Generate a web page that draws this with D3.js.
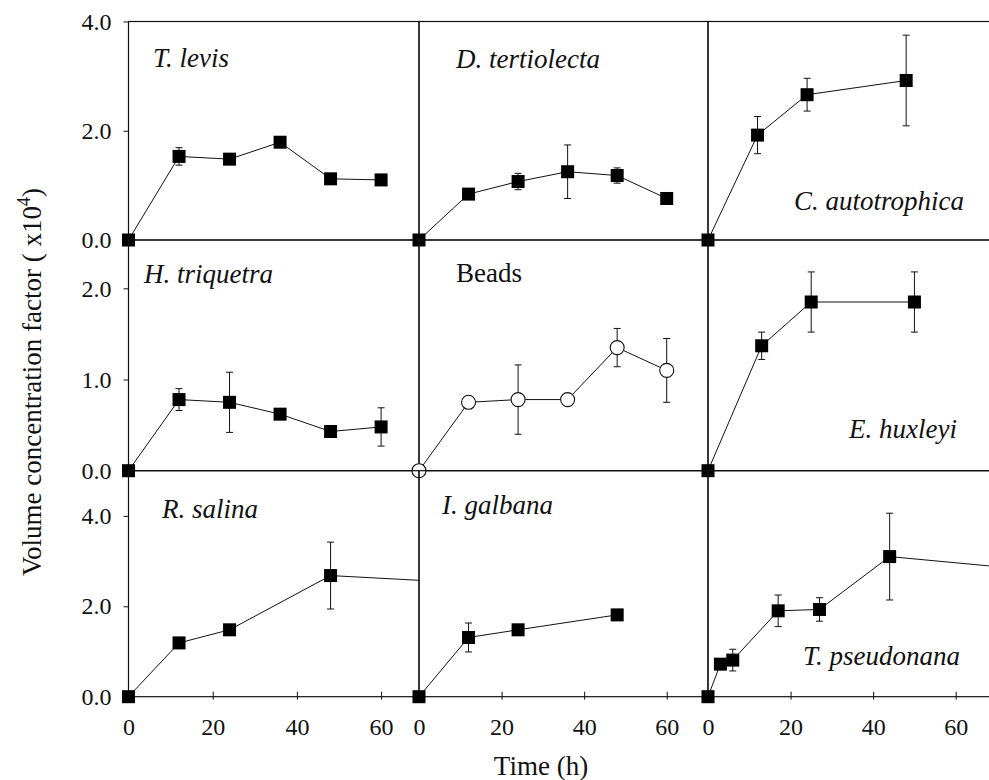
<!DOCTYPE html>
<html>
<head>
<meta charset="utf-8">
<script src="https://cdn.jsdelivr.net/npm/d3@7"></script>
<style>
  body { margin: 0; background: #fff; }
  svg { display: block; }
</style>
</head>
<body>
<svg id="chart" width="989" height="780"></svg>
<script>
// values (time in h, volume concentration factor x10^4)
let tLevisT = [0, 12, 24, 36, 48, 60];
let tLevisV = [0, 1.53, 1.48, 1.79, 1.12, 1.10];
let tLevisE = [0, 0.16, 0, 0, 0, 0];

let dTertT = [0, 12, 24, 36, 48, 60];
let dTertV = [0, 0.84, 1.07, 1.25, 1.18, 0.76];
let dTertE = [0, 0, 0.15, 0.49, 0.14, 0];

let cAutoT = [0, 12, 24, 48];
let cAutoV = [0, 1.92, 2.66, 2.92];
let cAutoE = [0, 0.34, 0.30, 0.83];

let hTriqT = [0, 12, 24, 36, 48, 60];
let hTriqV = [0, 0.78, 0.75, 0.62, 0.43, 0.48];
let hTriqE = [0, 0.12, 0.33, 0, 0, 0.21];

let beadsT = [0, 12, 24, 36, 48, 60];
let beadsV = [0, 0.75, 0.78, 0.78, 1.35, 1.10];
let beadsE = [0, 0.03, 0.38, 0, 0.21, 0.35];

let eHuxT = [0, 13, 25, 50];
let eHuxV = [0, 1.37, 1.85, 1.85];
let eHuxE = [0, 0.15, 0.33, 0.33];

let rSalT = [0, 12, 24, 48, 72];
let rSalV = [0, 1.19, 1.48, 2.68, 2.56];
let rSalE = [0, 0, 0, 0.74, 0];

let iGalT = [0, 12, 24, 48];
let iGalV = [0, 1.31, 1.48, 1.81];
let iGalE = [0, 0.32, 0, 0.05];

let tPseT = [0, 3, 6, 17, 27, 44, 72];
let tPseV = [0, 0.72, 0.81, 1.90, 1.93, 3.10, 2.86];
let tPseE = [0, 0, 0.24, 0.35, 0.26, 0.96, 0];

let rowTicks = [[0, 2, 4], [0, 1, 2], [0, 2, 4]];
let xTicks = [0, 20, 40, 60];

// layout
let colX = [[128.5, 419], [419, 708], [708, 997]];
let rowY = [[21.5, 240], [240, 470.7], [470.7, 696.7]];
let xMax = [69, 70, 70];
let yMax = [4, 2.53, 5];

let font = "'Liberation Serif', 'Times New Roman', Times, serif";

let panels = [
	{row: 0, col: 0, name: "T. levis", lx: 153, ly: 67, t: tLevisT, v: tLevisV, e: tLevisE},
	{row: 0, col: 1, name: "D. tertiolecta", lx: 456, ly: 68, t: dTertT, v: dTertV, e: dTertE},
	{row: 0, col: 2, name: "C. autotrophica", lx: 794, ly: 210, t: cAutoT, v: cAutoV, e: cAutoE},
	{row: 1, col: 0, name: "H. triquetra", lx: 144, ly: 283, t: hTriqT, v: hTriqV, e: hTriqE},
	{row: 1, col: 1, name: "Beads", upright: true, open: true, lx: 456, ly: 282, t: beadsT, v: beadsV, e: beadsE},
	{row: 1, col: 2, name: "E. huxleyi", lx: 849, ly: 438, t: eHuxT, v: eHuxV, e: eHuxE},
	{row: 2, col: 0, name: "R. salina", lx: 162, ly: 518, t: rSalT, v: rSalV, e: rSalE},
	{row: 2, col: 1, name: "I. galbana", lx: 442, ly: 514, t: iGalT, v: iGalV, e: iGalE},
	{row: 2, col: 2, name: "T. pseudonana", lx: 803, ly: 665, t: tPseT, v: tPseV, e: tPseE}
];

let svg = d3.select("#chart");
let sq = 13;
let cap = 3.5;

panels.forEach((p, i) => {
	let x = d3.scaleLinear().domain([0, xMax[p.col]]).range(colX[p.col]);
	let y = d3.scaleLinear().domain([0, yMax[p.row]]).range([rowY[p.row][1], rowY[p.row][0]]);
	let pts = p.t.map((t, k) => ({t: t, v: p.v[k], e: p.e[k]}));
	let inside = pts.filter(d => d.t <= xMax[p.col]);

	svg.append("clipPath").attr("id", "clip" + i)
		.append("rect")
		.attr("x", colX[p.col][0]).attr("y", rowY[p.row][0])
		.attr("width", colX[p.col][1] - colX[p.col][0])
		.attr("height", rowY[p.row][1] - rowY[p.row][0]);

	let g = svg.append("g");

	// panel frame
	g.append("rect")
		.attr("x", colX[p.col][0]).attr("y", rowY[p.row][0])
		.attr("width", colX[p.col][1] - colX[p.col][0])
		.attr("height", rowY[p.row][1] - rowY[p.row][0])
		.attr("fill", "none").attr("stroke", "#111").attr("stroke-width", 1.2);

	// y axis only on the first column
	if (p.col == 0) {
		let ax = g.append("g")
			.attr("transform", `translate(${colX[0][0]},0)`)
			.call(d3.axisLeft(y).tickValues(rowTicks[p.row]).tickFormat(d3.format(".1f"))
				.tickSize(5).tickPadding(12).tickSizeOuter(0));
		ax.select(".domain").remove();
		ax.selectAll("text").attr("font-family", font).attr("font-size", 24).attr("fill", "#111");
		ax.selectAll("line").attr("stroke", "#111");
	}

	// x axis on the bottom row
	if (p.row == 2) {
		let ax = g.append("g")
			.attr("transform", `translate(0,${rowY[2][1]})`)
			.call(d3.axisBottom(x).tickValues(xTicks).tickFormat(d3.format("d"))
				.tickSize(0).tickPadding(21).tickSizeOuter(0));
		ax.select(".domain").remove();
		ax.selectAll(".tick line")
			.attr("y1", d => d == 0 ? 0 : -5).attr("y2", d => d == 0 ? 0 : 3)
			.attr("stroke", "#111");
		ax.selectAll("text").attr("font-family", font).attr("font-size", 24).attr("fill", "#111");
	}

	// connecting line
	g.append("path")
		.datum(pts)
		.attr("clip-path", `url(#clip${i})`)
		.attr("fill", "none").attr("stroke", "#111").attr("stroke-width", 1)
		.attr("d", d3.line().x(d => x(d.t)).y(d => y(d.v)));

	// error bars
	let eb = g.selectAll(".err")
		.data(inside.filter(d => d.e > 0))
		.join("g").attr("stroke", "#111").attr("stroke-width", 1);
	eb.append("line")
		.attr("x1", d => x(d.t)).attr("x2", d => x(d.t))
		.attr("y1", d => y(d.v - d.e)).attr("y2", d => y(d.v + d.e));
	eb.append("line")
		.attr("x1", d => x(d.t) - cap).attr("x2", d => x(d.t) + cap)
		.attr("y1", d => y(d.v + d.e)).attr("y2", d => y(d.v + d.e));
	eb.append("line")
		.attr("x1", d => x(d.t) - cap).attr("x2", d => x(d.t) + cap)
		.attr("y1", d => y(d.v - d.e)).attr("y2", d => y(d.v - d.e));

	// markers
	if (p.open) {
		g.selectAll(".pt").data(inside).join("circle")
			.attr("cx", d => x(d.t)).attr("cy", d => y(d.v)).attr("r", 7)
			.attr("fill", "#fff").attr("stroke", "#111").attr("stroke-width", 1.1);
	} else {
		g.selectAll(".pt").data(inside).join("rect")
			.attr("x", d => x(d.t) - sq / 2).attr("y", d => y(d.v) - sq / 2)
			.attr("width", sq).attr("height", sq)
			.attr("fill", "#000");
	}

	// species label
	g.append("text")
		.attr("x", p.lx).attr("y", p.ly)
		.attr("font-family", font).attr("font-size", 27)
		.attr("font-style", p.upright ? "normal" : "italic")
		.attr("fill", "#111")
		.text(p.name);
});

// axis titles
svg.append("text")
	.attr("x", 541).attr("y", 775)
	.attr("text-anchor", "middle")
	.attr("font-family", font).attr("font-size", 27).attr("fill", "#111")
	.text("Time (h)");

let yl = svg.append("text")
	.attr("transform", "translate(41,382) rotate(-90)")
	.attr("text-anchor", "middle")
	.attr("font-family", font).attr("font-size", 27).attr("fill", "#111");
yl.append("tspan").text("Volume concentration factor ( x10");
yl.append("tspan").attr("font-size", 18).attr("dy", -11).text("4");
yl.append("tspan").attr("dy", 11).text(")");
</script>
</body>
</html>
